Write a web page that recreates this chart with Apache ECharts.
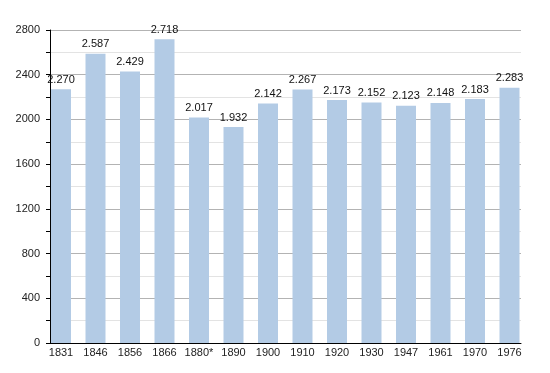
<!DOCTYPE html>
<html><head><meta charset="utf-8">
<script src="https://cdn.jsdelivr.net/npm/echarts@6/dist/echarts.min.js"></script>
<style>html,body{margin:0;padding:0;background:#fff}#c{width:550px;height:373px}</style>
</head><body><div id="c"></div>
<script>
const categories = ['1831','1846','1856','1866','1880*','1890','1900','1910','1920','1930','1947','1961','1970','1976'];
const population = [2270,2587,2429,2718,2017,1932,2142,2267,2173,2152,2123,2148,2183,2283];
const yMin = 0, yMax = 2800, yStep = 400;

const fmt = v => String(v).replace(/\B(?=(\d{3})+(?!\d))/g, '.');
const font = 'Liberation Sans, Arial, sans-serif';
const chart = echarts.init(document.getElementById('c'));
chart.setOption({
  animation: false,
  grid: [
    {left: 50, right: 29, top: 30, bottom: 30},
    {left: 43.75, right: 23.25, top: 30, bottom: 30}
  ],
  xAxis: [
    {gridIndex: 0, type: 'category', data: categories, axisLine: {lineStyle: {color: '#000', width: 1}},
     axisTick: {show: false}, axisLabel: {show: false}},
    {gridIndex: 1, type: 'category', data: categories, axisLine: {show: false}, axisTick: {show: false},
     axisLabel: {interval: 0, color: '#222', fontFamily: font, fontSize: 11, margin: 4}}
  ],
  yAxis: [
    {gridIndex: 0, type: 'value', min: yMin, max: yMax, interval: yStep,
     axisLine: {show: true, lineStyle: {color: '#000', width: 1}},
     axisTick: {show: true, length: 4, lineStyle: {color: '#000'}},
     minorTick: {show: true, splitNumber: 2, length: 4, lineStyle: {color: '#000'}},
     splitLine: {lineStyle: {color: '#b3b3b3', width: 1}},
     minorSplitLine: {show: true, lineStyle: {color: '#e3e3e3', width: 1}},
     axisLabel: {color: '#222', fontFamily: font, fontSize: 11, margin: 10, formatter: v => String(v)}},
    {gridIndex: 1, type: 'value', min: yMin, max: yMax, interval: yStep, show: false, splitLine: {show: false}}
  ],
  series: [{
    type: 'bar', xAxisIndex: 1, yAxisIndex: 1, data: population, barWidth: 20,
    itemStyle: {color: '#b3cbe5'},
    label: {show: true, position: 'top', distance: 4, color: '#111', fontFamily: font, fontSize: 11,
            formatter: p => fmt(p.value)}
  }]
});
</script></body></html>
